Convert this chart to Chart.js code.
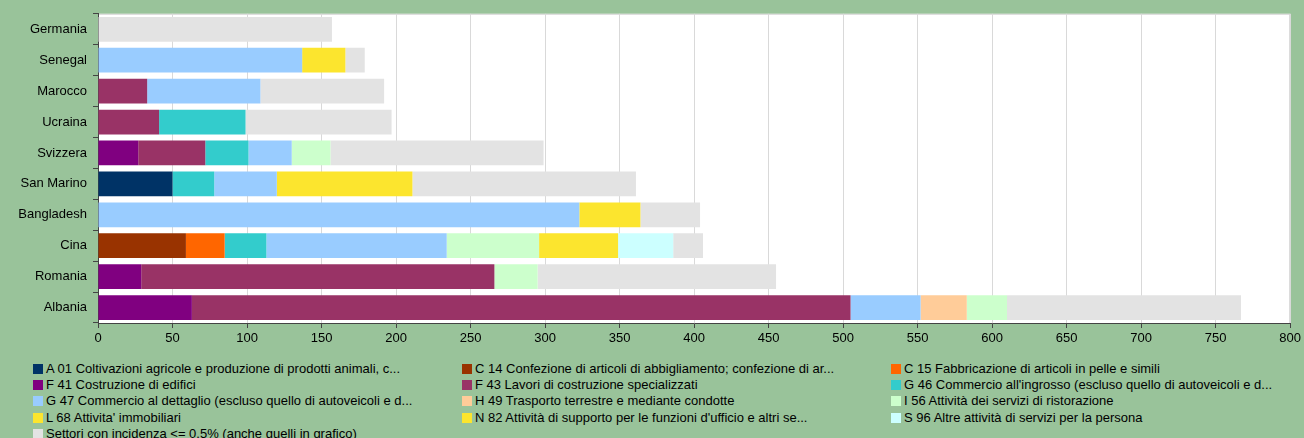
<!DOCTYPE html>
<html>
<head>
<meta charset="utf-8">
<script src="https://cdn.jsdelivr.net/npm/chart.js@4"></script>
<style>
  html, body { margin: 0; padding: 0; background: #99c39a; }
  body { width: 1304px; height: 438px; position: relative; overflow: hidden; font-family: "Liberation Sans", Arial, sans-serif; }
  #wrap { position: absolute; left: 0; top: 0; width: 1304px; height: 355px; }
  #legend { position: absolute; left: 0; top: 361px; width: 1304px; font-size: 13px; color: #000; }
  .item { position: absolute; white-space: nowrap; line-height: 16px; }
  .item i { display: inline-block; width: 10px; height: 10px; margin-right: 3px; vertical-align: -1px; }
</style>
</head>
<body>
<div id="wrap"><canvas id="chart" width="1304" height="355"></canvas></div>
<div id="legend"></div>
<script>
// paesi, dall'alto in basso
const countries = ['Germania', 'Senegal', 'Marocco', 'Ucraina', 'Svizzera', 'San Marino', 'Bangladesh', 'Cina', 'Romania', 'Albania'];
const xTicks = [0, 50, 100, 150, 200, 250, 300, 350, 400, 450, 500, 550, 600, 650, 700, 750, 800];

// valori per settore, stesso ordine di countries
const a01 = [0, 0, 0, 0, 0, 50, 0, 0, 0, 0];
const c14 = [0, 0, 0, 0, 0, 0, 0, 59, 0, 0];
const c15 = [0, 0, 0, 0, 0, 0, 0, 26, 0, 0];
const f41 = [0, 0, 0, 0, 27, 0, 0, 0, 29, 63];
const f43 = [0, 0, 33, 41, 45, 0, 0, 0, 237, 442];
const g46 = [0, 0, 0, 58, 29, 28, 0, 28, 0, 0];
const g47 = [0, 137, 76, 0, 29, 42, 323, 121, 0, 47];
const h49 = [0, 0, 0, 0, 0, 0, 0, 0, 0, 31];
const i56 = [0, 0, 0, 0, 26, 0, 0, 62, 29, 27];
const l68 = [0, 0, 0, 0, 0, 91, 0, 53, 0, 0];
const n82 = [0, 29, 0, 0, 0, 0, 41, 0, 0, 0];
const s96 = [0, 0, 0, 0, 0, 0, 0, 37, 0, 0];
const altri = [157, 13, 83, 98, 143, 150, 40, 20, 160, 157];

const sectors = [
    {label: "A 01 Coltivazioni agricole e produzione di prodotti animali, c...", data: a01, color: '#003366'},
    {label: "C 14 Confezione di articoli di abbigliamento; confezione di ar...", data: c14, color: '#993300'},
    {label: "C 15 Fabbricazione di articoli in pelle e simili", data: c15, color: '#ff6600'},
    {label: "F 41 Costruzione di edifici", data: f41, color: '#800080'},
    {label: "F 43 Lavori di costruzione specializzati", data: f43, color: '#993366'},
    {label: "G 46 Commercio all'ingrosso (escluso quello di autoveicoli e d...", data: g46, color: '#33cccc'},
    {label: "G 47 Commercio al dettaglio (escluso quello di autoveicoli e d...", data: g47, color: '#99ccff'},
    {label: "H 49 Trasporto terrestre e mediante condotte", data: h49, color: '#ffcc99'},
    {label: "I 56 Attività dei servizi di ristorazione", data: i56, color: '#ccffcc'},
    {label: "L 68 Attivita' immobiliari", data: l68, color: '#fce52e'},
    {label: "N 82 Attività di supporto per le funzioni d'ufficio e altri se...", data: n82, color: '#fce52e'},
    {label: "S 96 Altre attività di servizi per la persona", data: s96, color: '#ccffff'},
    {label: "Settori con incidenza <= 0.5% (anche quelli in grafico)", data: altri, color: '#e3e3e3'}
];

const plotBg = {
    id: 'plotBg',
    beforeDraw(chart) {
        const {ctx, chartArea: a} = chart;
        ctx.save();
        ctx.fillStyle = '#ffffff';
        ctx.fillRect(a.left, a.top, a.right - a.left, a.bottom - a.top);
        ctx.strokeStyle = '#d6d6d6';
        ctx.lineWidth = 1;
        ctx.strokeRect(a.left + 0.5, a.top + 0.5, a.right - a.left - 1, a.bottom - a.top);
        ctx.restore();
    }
};

const tickFont = {family: '"Liberation Sans", Arial, sans-serif', size: 13};

new Chart(document.getElementById('chart').getContext('2d'), {
    type: 'bar',
    data: {
        labels: countries,
        datasets: sectors.map(s => ({
            label: s.label,
            data: s.data,
            backgroundColor: s.color,
            borderWidth: 0,
            categoryPercentage: 1,
            barPercentage: 0.8
        }))
    },
    options: {
        indexAxis: 'y',
        responsive: false,
        animation: false,
        layout: {padding: {left: 0, right: 12, top: 12, bottom: 0}},
        plugins: {legend: {display: false}, tooltip: {enabled: false}},
        scales: {
            x: {
                stacked: true,
                min: 0,
                max: 800,
                afterBuildTicks: scale => { scale.ticks = xTicks.map(v => ({value: v})); },
                afterFit: scale => { scale.height = 32; },
                grid: {color: '#d9d9d9', tickColor: '#444', tickLength: 5, lineWidth: 1},
                border: {display: true, color: '#444', width: 1},
                ticks: {font: tickFont, color: '#000', padding: 3, maxRotation: 0}
            },
            y: {
                stacked: true,
                afterFit: scale => { scale.width = 98; },
                grid: {drawOnChartArea: false, drawTicks: true, tickColor: '#444', tickLength: 5, offset: true},
                border: {display: true, color: '#444', width: 1},
                ticks: {font: tickFont, color: '#000', padding: 6}
            }
        }
    },
    plugins: [plotBg]
});

// legenda a tre colonne
const legend = document.getElementById('legend');
const colX = [33, 462, 891];
sectors.forEach((s, i) => {
    const el = document.createElement('div');
    el.className = 'item';
    el.style.left = colX[i % 3] + 'px';
    el.style.top = (Math.floor(i / 3) * 16.2) + 'px';
    el.innerHTML = '<i style="background:' + s.color + '"></i>';
    el.appendChild(document.createTextNode(s.label));
    legend.appendChild(el);
});
</script>
</body>
</html>
